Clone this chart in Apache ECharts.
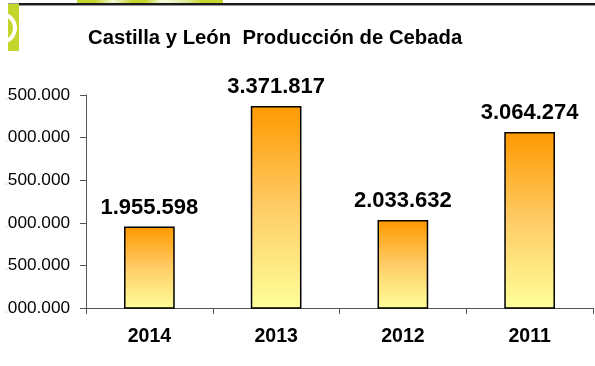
<!DOCTYPE html>
<html>
<head>
<meta charset="utf-8">
<script src="https://cdn.jsdelivr.net/npm/echarts@6/dist/echarts.min.js"></script>
<style>
  html, body { margin: 0; padding: 0; background: #fff; }
  #chart { width: 595px; height: 366px; }
</style>
</head>
<body>
<div id="chart"></div>
<script>
// Barley production in Castilla y León (tonnes)
const years = ['2014', '2013', '2012', '2011'];
const production = [1955598, 3371817, 2033632, 3064274];
const yMin = 1000000;
const yMax = 3500000;
const yStep = 500000;
const titleText = 'Castilla y León  Producción de Cebada';

// thousands separated with dots, Spanish style
function fmt(v) {
  return String(Math.round(v)).replace(/\B(?=(\d{3})+(?!\d))/g, '.');
}

const chart = echarts.init(document.getElementById('chart'), null, { renderer: 'canvas' });

const barFill = new echarts.graphic.LinearGradient(0, 0, 0, 1, [
  { offset: 0, color: '#FF9900' },
  { offset: 0.5, color: '#FFCC66' },
  { offset: 1, color: '#FFFF99' }
]);

const bandFill = new echarts.graphic.LinearGradient(0, 0, 1, 0, [
  { offset: 0.0, color: '#C4D52C' },
  { offset: 0.12, color: '#C4D52C' },
  { offset: 0.25, color: '#F4F7DA' },
  { offset: 0.38, color: '#C4D52C' },
  { offset: 0.47, color: '#C4D52C' },
  { offset: 0.58, color: '#F7F9E4' },
  { offset: 0.75, color: '#E2EB9A' },
  { offset: 0.86, color: '#C4D52C' },
  { offset: 1.0, color: '#C4D52C' }
]);

chart.setOption({
  backgroundColor: '#ffffff',
  animation: false,
  title: {
    text: titleText,
    left: 83,
    top: 23,
    textStyle: {
      fontFamily: 'Liberation Sans, Arial, sans-serif',
      fontSize: 20.3,
      fontWeight: 'bold',
      color: '#000'
    }
  },
  graphic: [
    // header band and rule
    { type: 'rect', shape: { x: 77, y: 0, width: 146, height: 3 }, style: { fill: bandFill }, silent: true },
    { type: 'rect', shape: { x: 8, y: 4, width: 11, height: 47 }, style: { fill: '#C4D52C' }, silent: true },
    { type: 'arc', shape: { cx: 1, cy: 28, r: 14, startAngle: -Math.PI * 0.42, endAngle: Math.PI * 0.42 },
      style: { stroke: '#ffffff', lineWidth: 4, fill: null }, silent: true },
    { type: 'rect', shape: { x: 8, y: 3, width: 11, height: 1 }, style: { fill: '#999' }, silent: true },
    { type: 'rect', shape: { x: 19, y: 3, width: 576, height: 2 }, style: { fill: '#1a1a1a' }, silent: true },
    { type: 'rect', shape: { x: 19, y: 5, width: 576, height: 1 }, style: { fill: '#9a9a9a' }, silent: true },
    // left page margin: the chart area is clipped here
    { type: 'rect', z: 100, shape: { x: 0, y: 60, width: 6, height: 270 }, style: { fill: '#ffffff' }, silent: true }
  ],
  grid: {
    left: 86,
    right: 2,
    top: 95,
    bottom: 58,
    containLabel: false,
    outerBoundsMode: 'none'
  },
  xAxis: {
    type: 'category',
    data: years,
    boundaryGap: true,
    axisLine: { lineStyle: { color: '#555', width: 1 } },
    axisTick: { show: true, length: 6, lineStyle: { color: '#555' }, alignWithLabel: false },
    axisLabel: {
      margin: 19,
      fontFamily: 'Liberation Sans, Arial, sans-serif',
      fontSize: 19.5,
      fontWeight: 'bold',
      color: '#000'
    },
    splitLine: { show: false }
  },
  yAxis: {
    type: 'value',
    min: yMin,
    max: yMax,
    interval: yStep,
    axisLine: { show: true, lineStyle: { color: '#555', width: 1 } },
    axisTick: { show: true, length: 6, lineStyle: { color: '#555' } },
    axisLabel: {
      margin: 16,
      fontFamily: 'Liberation Sans, Arial, sans-serif',
      fontSize: 17.2,
      color: '#000',
      formatter: fmt
    },
    splitLine: { show: false }
  },
  series: [{
    type: 'bar',
    data: production,
    barWidth: '40%',
    itemStyle: {
      color: barFill,
      borderColor: '#000',
      borderWidth: 1.5
    },
    label: {
      show: true,
      position: 'top',
      distance: 8,
      formatter: p => fmt(p.value),
      fontFamily: 'Liberation Sans, Arial, sans-serif',
      fontSize: 22,
      fontWeight: 'bold',
      color: '#000'
    }
  }]
});
</script>
</body>
</html>
